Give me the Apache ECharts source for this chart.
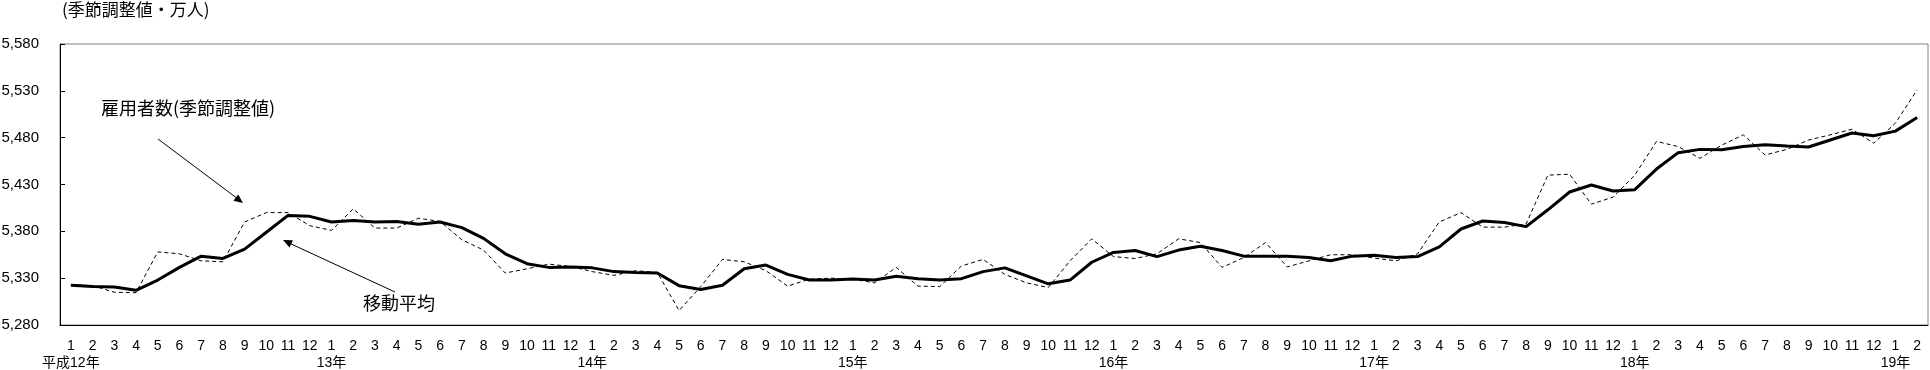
<!DOCTYPE html>
<html>
<head>
<meta charset="utf-8">
<script src="https://cdn.jsdelivr.net/npm/echarts@6/dist/echarts.min.js"></script>
<style>
html,body{margin:0;padding:0;background:#fff;}
#chart{width:1930px;height:370px;}
</style>
</head>
<body>
<div id="chart"></div>
<script>
// ---- data ----
const yearLabels = ['平成12年','13年','14年','15年','16年','17年','18年','19年'];
const monthNames = ['1','2','3','4','5','6','7','8','9','10','11','12'];
const monthCount = 86; // 平成12年1月 ～ 19年2月

// 雇用者数（季節調整値）
const employees = [
  5323, 5322, 5315, 5314.5, 5358, 5356, 5348.5, 5347.5, 5390, 5400, 5400, 5386,
  5381, 5404, 5383.5, 5383.5, 5394, 5390.5, 5371, 5360, 5335.5, 5340, 5345, 5342.5,
  5337, 5333, 5338, 5336, 5295.5, 5321, 5350, 5347.5, 5338, 5321.5, 5329, 5330,
  5329, 5325, 5341.5, 5321.5, 5321, 5343, 5350, 5334, 5325, 5320, 5348.5, 5372,
  5353, 5351, 5356, 5372, 5368, 5341.5, 5352, 5368, 5342, 5348.5, 5355, 5355,
  5351.5, 5348.5, 5356, 5390, 5400, 5384.5, 5384.5, 5388, 5440, 5441, 5409, 5416.5,
  5440, 5476, 5470.5, 5458, 5472, 5483, 5461.5, 5467.5, 5477.5, 5483, 5489, 5474,
  5495.5, 5531
];
// 移動平均
const movingAvg = [
  5322.5, 5321, 5320.5, 5317, 5328, 5341.5, 5353.5, 5351, 5361, 5379, 5397, 5396,
  5390, 5391.5, 5390, 5390.5, 5387.5, 5390, 5384, 5372.5, 5356, 5345.5, 5341.5, 5342,
  5341, 5337, 5336, 5335.5, 5322, 5318, 5322.5, 5340, 5344, 5334, 5328, 5328,
  5329, 5328, 5332, 5329.5, 5328, 5329.5, 5337, 5341, 5332.5, 5324, 5328, 5347,
  5357.5, 5359.5, 5353, 5360, 5364, 5359.5, 5353.5, 5353.5, 5353.5, 5352, 5348.5, 5353.5,
  5354.5, 5352, 5353, 5363.5, 5382.5, 5391, 5389.5, 5385, 5403, 5422, 5429.5, 5423,
  5424.5, 5446.5, 5464, 5467.5, 5467, 5470.5, 5472.5, 5471, 5470, 5477.5, 5485, 5482,
  5487, 5501.5
];
const yMin = 5280, yMax = 5580, yStep = 50;

// ---- build categories ----
const categories = [];
for (let i = 0; i < monthCount; i++) {
  const m = monthNames[i % 12];
  categories.push(i % 12 === 0 ? m + '\n' + yearLabels[Math.floor(i / 12)] : m);
}

const FONT = "'Liberation Sans','Noto Sans CJK JP',sans-serif";
const JFONT = "'Noto Sans CJK JP',sans-serif";

const chart = echarts.init(document.getElementById('chart'), null, {renderer: 'canvas'});
chart.setOption({
  animation: false,
  backgroundColor: '#fff',
  grid: {
    left: 60, right: 2, top: 44, bottom: 45,
    show: true, borderColor: '#808080', borderWidth: 1,
    outerBoundsMode: 'none'
  },
  xAxis: {
    type: 'category',
    data: categories,
    boundaryGap: true,
    axisLine: {lineStyle: {color: '#000', width: 1}},
    axisTick: {show: false},
    axisLabel: {
      interval: 0, margin: 13, color: '#000',
      fontFamily: FONT, fontSize: 14, lineHeight: 17
    },
    splitLine: {show: false}
  },
  yAxis: {
    type: 'value',
    min: yMin, max: yMax, interval: yStep,
    axisLine: {show: true, lineStyle: {color: '#000', width: 1}},
    axisTick: {show: true, inside: true, length: 5, lineStyle: {color: '#000'}},
    axisLabel: {
      margin: 21, color: '#000', fontFamily: FONT, fontSize: 15,
      formatter: v => String(v).replace(/\B(?=(\d{3})+(?!\d))/g, ',')
    },
    splitLine: {show: false}
  },
  graphic: [
    {type: 'text', left: 62, top: 1, style: {text: '(季節調整値・万人)', fill: '#000', font: '17px ' + JFONT}},
    {type: 'text', left: 101, top: 99, style: {text: '雇用者数(季節調整値)', fill: '#000', font: '18px ' + JFONT}},
    {type: 'line', shape: {x1: 158, y1: 139, x2: 238, y2: 199}, style: {stroke: '#000', lineWidth: 1}},
    {type: 'polygon', shape: {points: [[243, 203], [233.4, 200.8], [238.2, 194.4]]}, style: {fill: '#000'}},
    {type: 'text', left: 363, top: 294, style: {text: '移動平均', fill: '#000', font: '18px ' + JFONT}},
    {type: 'line', shape: {x1: 395, y1: 292, x2: 289, y2: 243}, style: {stroke: '#000', lineWidth: 1}},
    {type: 'polygon', shape: {points: [[283, 240], [292.9, 240.2], [289.5, 247.4]]}, style: {fill: '#000'}}
  ],
  series: [
    {
      name: '雇用者数（季節調整値）', type: 'line', data: employees,
      symbol: 'none', lineStyle: {color: '#000', width: 1, type: [4, 3]}, z: 2
    },
    {
      name: '移動平均', type: 'line', data: movingAvg,
      symbol: 'none', lineStyle: {color: '#000', width: 3}, z: 3
    }
  ]
});
</script>
</body>
</html>
